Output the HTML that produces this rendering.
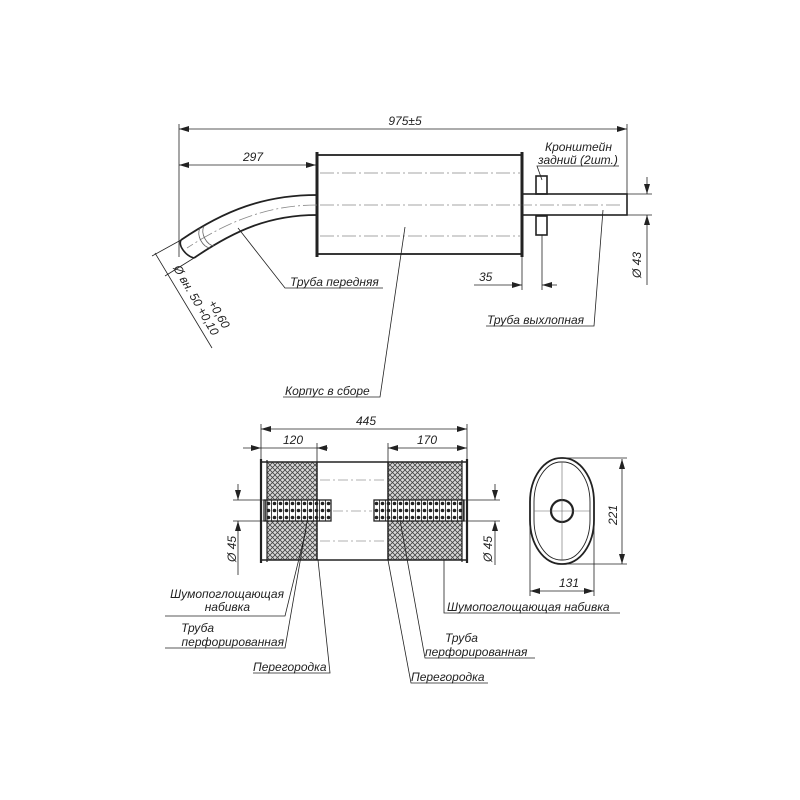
<!DOCTYPE html>
<html><head><meta charset="utf-8"><style>
body{margin:0;background:#fff}
svg{display:block}
text{font-family:"Liberation Sans",sans-serif;font-style:italic;font-size:12px;fill:#222}
</style></head><body>
<svg width="800" height="800" viewBox="0 0 800 800" xmlns="http://www.w3.org/2000/svg">
<defs>
<pattern id="hx" width="5" height="5" patternUnits="userSpaceOnUse">
<rect width="5" height="5" fill="#d8d8d8"/>
<path d="M0 0L5 5M5 0L0 5" stroke="#444" stroke-width="0.8"/>
</pattern>
<pattern id="dots" width="6" height="7" patternUnits="userSpaceOnUse" x="1" y="500">
<rect width="6" height="7" fill="#fff"/>
<rect x="0" y="0" width="1" height="7" fill="#444"/>
<circle cx="3.5" cy="3.5" r="1.8" fill="#222"/>
</pattern>
<marker id="a" viewBox="0 0 10 6" refX="10" refY="3" markerWidth="10" markerHeight="6" orient="auto-start-reverse" markerUnits="userSpaceOnUse"><path d="M0 0L10 3L0 6z" fill="#222"/></marker>
</defs>
<g stroke="#222" fill="none" stroke-width="0.8">
<line x1="179" y1="129" x2="627" y2="129" marker-start="url(#a)" marker-end="url(#a)"/>
<line x1="179" y1="124" x2="179" y2="257"/>
<line x1="627" y1="124" x2="627" y2="197"/>
<line x1="179" y1="165" x2="316" y2="165" marker-start="url(#a)" marker-end="url(#a)"/>
<rect x="317" y="155" width="205" height="99" stroke-width="1.8"/>
<line x1="317" y1="152" x2="317" y2="257" stroke-width="3"/>
<line x1="522" y1="152" x2="522" y2="257" stroke-width="3"/>
<g stroke-dasharray="14,3,2,3" stroke="#888">
<line x1="320" y1="173" x2="520" y2="173"/><line x1="320" y1="236" x2="520" y2="236"/>
<line x1="320" y1="205" x2="620" y2="205"/>
<path d="M317 205 C270 205 230 220 187 248"/>
</g>
<rect x="522" y="194" width="105" height="21" stroke-width="1.6"/>
<rect x="536" y="176" width="11" height="18" stroke-width="1.6"/>
<rect x="536" y="216" width="11" height="19" stroke-width="1.6"/>
<path d="M317 195 C265 195 225 210 181 240" stroke-width="1.8"/>
<path d="M317 215 C270 215 235 230 194 258" stroke-width="1.8"/>
<path d="M181 240 C178 246 186 256 194 258" stroke-width="1.6"/>
<path d="M200 228 C196 236 203 247 210 248" stroke="#666"/>
<path d="M204 226 C200 234 207 245 214 246" stroke="#666"/>
<line x1="627" y1="194" x2="652" y2="194"/><line x1="627" y1="215" x2="652" y2="215"/>
<line x1="647" y1="177" x2="647" y2="194" marker-end="url(#a)"/>
<line x1="647" y1="285" x2="647" y2="215" marker-end="url(#a)"/>
<line x1="522" y1="257" x2="522" y2="290"/><line x1="542" y1="235" x2="542" y2="290"/>
<line x1="474" y1="285" x2="522" y2="285" marker-end="url(#a)"/>
<line x1="557" y1="285" x2="542" y2="285" marker-end="url(#a)"/>
<line x1="181" y1="240" x2="152" y2="256"/><line x1="194" y1="258" x2="165" y2="276"/>
<line x1="155" y1="253" x2="212" y2="348"/>
<polyline points="238,228 285,288 383,288"/>
<polyline points="603,210 594,326 486,326"/>
<polyline points="542,180 537,166 619,166"/>
<polyline points="405,227 380,397 283,397"/>
</g>
<text x="405" y="125" text-anchor="middle">975±5</text>
<text x="253" y="161" text-anchor="middle">297</text>
<text x="545" y="151">Кронштейн</text>
<text x="538" y="164">задний (2шт.)</text>
<text x="479" y="281">35</text>
<text x="290" y="286">Труба передняя</text>
<text x="487" y="324">Труба выхлопная</text>
<text x="285" y="395">Корпус в сборе</text>
<text transform="translate(641,278) rotate(-90)">Ø 43</text>
<text transform="translate(173,268) rotate(60)">Ø вн. 50</text>
<text transform="translate(197,310) rotate(60)" font-size="10">+0,10</text>
<text transform="translate(208,303) rotate(60)" font-size="10">+0,60</text>

<g stroke="#222" fill="none" stroke-width="0.8">
<line x1="261" y1="429" x2="467" y2="429" marker-start="url(#a)" marker-end="url(#a)"/>
<line x1="261" y1="424" x2="261" y2="462"/><line x1="467" y1="424" x2="467" y2="462"/>
<line x1="261" y1="448" x2="317" y2="448"/>
<line x1="317" y1="443" x2="317" y2="462"/>
<line x1="388" y1="443" x2="388" y2="462"/>
<line x1="388" y1="448" x2="467" y2="448" marker-start="url(#a)" marker-end="url(#a)"/>
<line x1="243" y1="448" x2="261" y2="448" marker-end="url(#a)"/>
<line x1="328" y1="448" x2="317" y2="448" marker-end="url(#a)"/>
</g>
<rect x="267" y="462" width="50" height="39" fill="url(#hx)"/>
<rect x="267" y="521" width="50" height="39" fill="url(#hx)"/>
<rect x="388" y="462" width="74" height="39" fill="url(#hx)"/>
<rect x="388" y="521" width="74" height="39" fill="url(#hx)"/>
<rect x="264" y="500" width="67" height="21" fill="url(#dots)" stroke="#222" stroke-width="1.3"/>
<rect x="374" y="500" width="90" height="21" fill="url(#dots)" stroke="#222" stroke-width="1.3"/>
<g stroke="#222" fill="none">
<rect x="261" y="462" width="206" height="98" stroke-width="1.5"/>
<line x1="267" y1="460" x2="267" y2="562" stroke-width="1.2"/>
<line x1="462" y1="460" x2="462" y2="562" stroke-width="1.2"/>
<line x1="261" y1="459" x2="261" y2="563" stroke-width="2.2"/>
<line x1="467" y1="459" x2="467" y2="563" stroke-width="2.2"/>
<line x1="317" y1="462" x2="317" y2="560" stroke-width="1.5"/>
<line x1="388" y1="462" x2="388" y2="560" stroke-width="1.5"/>
<g stroke="#999" stroke-dasharray="10,3,2,3" stroke-width="0.8">
<line x1="320" y1="480" x2="386" y2="480"/><line x1="320" y1="541" x2="386" y2="541"/><line x1="333" y1="511" x2="372" y2="511"/>
</g>
<g stroke-width="0.8">
<line x1="233" y1="500" x2="264" y2="500"/><line x1="233" y1="521" x2="264" y2="521"/>
<line x1="238" y1="484" x2="238" y2="500" marker-end="url(#a)"/>
<line x1="238" y1="575" x2="238" y2="521" marker-end="url(#a)"/>
<line x1="464" y1="500" x2="500" y2="500"/><line x1="464" y1="521" x2="500" y2="521"/>
<line x1="495" y1="484" x2="495" y2="500" marker-end="url(#a)"/>
<line x1="495" y1="565" x2="495" y2="521" marker-end="url(#a)"/>
</g>
<rect x="530" y="458" width="64" height="106" rx="31" ry="44" stroke-width="1.8"/>
<rect x="534" y="462" width="56" height="98" rx="27" ry="40" stroke-width="0.9"/>
<circle cx="562" cy="511" r="11" stroke-width="2.2"/>
<g stroke-width="0.6" stroke="#666"><line x1="562" y1="462" x2="562" y2="560"/><line x1="534" y1="511" x2="590" y2="511"/></g>
<g stroke-width="0.8">
<line x1="562" y1="458" x2="627" y2="458"/><line x1="562" y1="564" x2="627" y2="564"/>
<line x1="622" y1="459" x2="622" y2="564" marker-start="url(#a)" marker-end="url(#a)"/>
<line x1="530" y1="511" x2="530" y2="596"/><line x1="594" y1="511" x2="594" y2="596"/>
<line x1="530" y1="591" x2="594" y2="591" marker-start="url(#a)" marker-end="url(#a)"/>
<polyline points="444,560 444,613 620,613"/>
<polyline points="306,530 285,616 165,616"/>
<polyline points="308,516 285,648 165,648"/>
<polyline points="318,560 330,673 253,673"/>
<polyline points="400,520 425,658 535,658"/>
<polyline points="388,560 411,683 488,683"/>
</g>
</g>
<text x="366" y="425" text-anchor="middle">445</text>
<text x="293" y="444" text-anchor="middle">120</text>
<text x="427" y="444" text-anchor="middle">170</text>
<text x="569" y="587" text-anchor="middle">131</text>
<text transform="translate(617,525) rotate(-90)">221</text>
<text transform="translate(236,562) rotate(-90)">Ø 45</text>
<text transform="translate(492,562) rotate(-90)">Ø 45</text>
<text x="447" y="611">Шумопоглощающая набивка</text>
<text x="284" y="598" text-anchor="end">Шумопоглощающая</text>
<text x="250" y="611" text-anchor="end">набивка</text>
<text x="214" y="632" text-anchor="end">Труба</text>
<text x="284" y="646" text-anchor="end">перфорированная</text>
<text x="253" y="671">Перегородка</text>
<text x="445" y="642">Труба</text>
<text x="425" y="656">перфорированная</text>
<text x="411" y="681">Перегородка</text>
</svg>
</body></html>
